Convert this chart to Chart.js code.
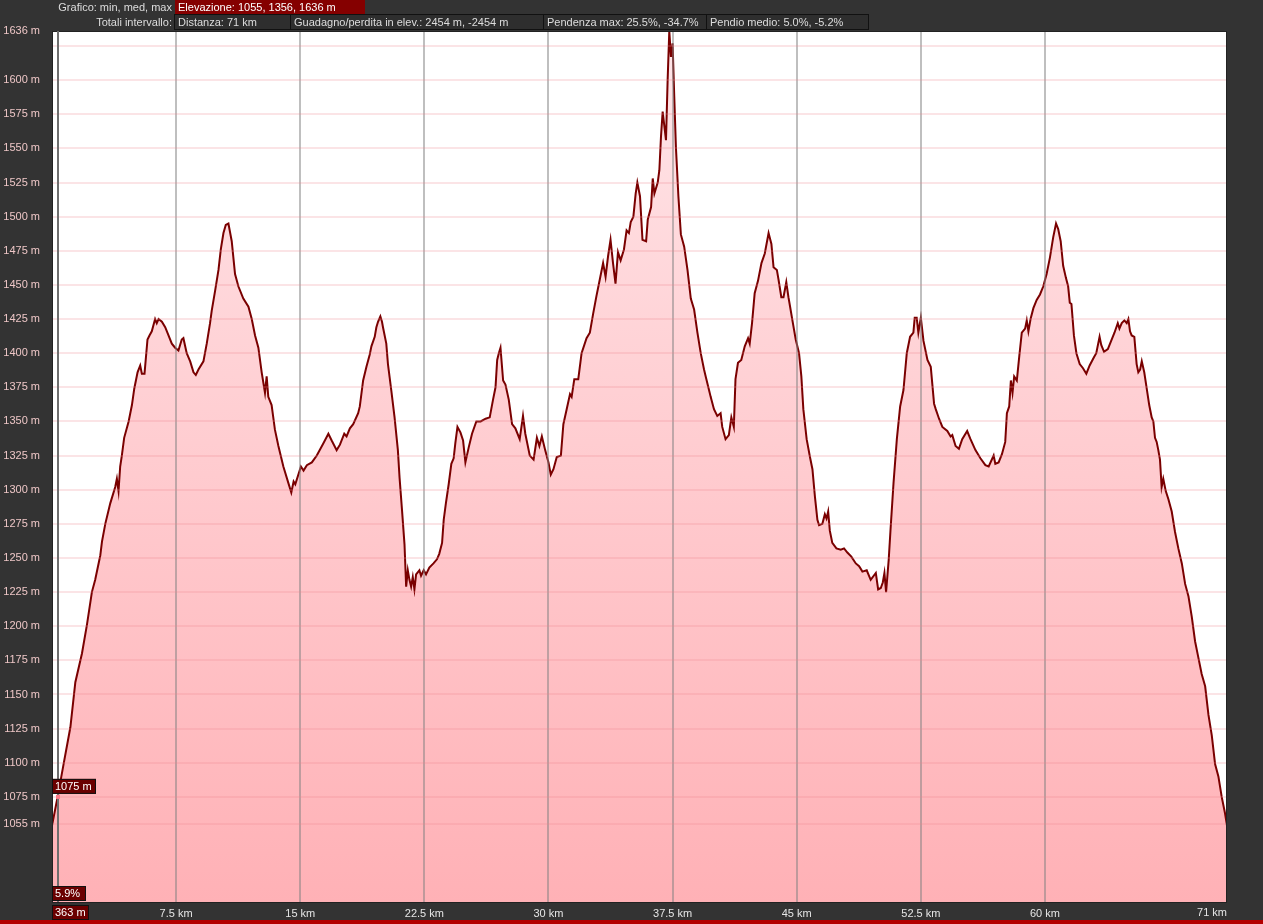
<!DOCTYPE html>
<html>
<head>
<meta charset="utf-8">
<script src="https://cdn.jsdelivr.net/npm/chart.js@4/dist/chart.umd.min.js"></script>
<style>
body{margin:0;background:#333;font-family:"Liberation Sans",Arial,sans-serif;font-size:11px;color:#ddd;overflow:hidden}
#wrap{position:relative;width:1263px;height:924px}
canvas{position:absolute;left:0;top:0}
.lab{position:absolute;left:0;width:172px;text-align:right;height:14px;line-height:14px;white-space:nowrap}
.box{position:absolute;height:14px;line-height:14px;padding-left:3px;box-sizing:border-box;white-space:nowrap}
.red{background:#850000;color:#fff;top:0}
.blk{background:#2e2e2e;border:1px solid #111;top:14px;height:16px;line-height:14px;color:#ddd}
#bar{position:absolute;left:0;top:920px;width:1263px;height:4px;background:#b40000}
</style>
</head>
<body>
<div id="wrap">
<canvas id="profilo" width="1263" height="924"></canvas>
<div class="lab" style="top:0">Grafico: min, med, max</div>
<div class="box red" style="left:175px;width:190px">Elevazione: 1055, 1356, 1636 m</div>
<div class="lab" style="top:15px">Totali intervallo:</div>
<div class="box blk" style="left:174px;width:117px">Distanza: 71 km</div>
<div class="box blk" style="left:290px;width:254px">Guadagno/perdita in elev.: 2454 m, -2454 m</div>
<div class="box blk" style="left:543px;width:164px">Pendenza max: 25.5%, -34.7%</div>
<div class="box blk" style="left:706px;width:163px">Pendio medio: 5.0%, -5.2%</div>
<div id="bar"></div>
</div>
<script>
// profilo altimetrico: distanza (km) e quota (m)
const distKm=[0,0.34,0.7,1.11,1.41,1.81,2.11,2.41,2.61,2.92,3.02,3.22,3.52,3.82,3.92,4.02,4.12,4.22,4.36,4.63,4.73,4.83,4.97,5.17,5.33,5.43,5.59,5.77,5.89,6.03,6.23,6.33,6.44,6.64,6.84,7.04,7.24,7.44,7.64,7.84,7.94,8.14,8.35,8.55,8.69,8.85,9.15,9.35,9.55,9.65,9.86,10.06,10.2,10.36,10.5,10.66,10.86,11.06,11.26,11.56,11.87,12.07,12.27,12.47,12.67,12.87,12.97,13.07,13.27,13.47,13.68,13.98,14.28,14.46,14.6,14.7,15.04,15.2,15.4,15.7,16,16.4,16.7,16.9,17.2,17.4,17.66,17.8,18,18.2,18.5,18.6,18.8,19,19.2,19.3,19.5,19.6,19.7,19.84,19.94,20,20.2,20.3,20.5,20.7,20.9,21,21.15,21.3,21.4,21.5,21.6,21.7,21.8,21.9,22,22.2,22.3,22.46,22.6,22.8,23.05,23.26,23.4,23.57,23.67,23.8,23.97,24.13,24.27,24.37,24.5,24.68,24.84,24.98,25.18,25.38,25.64,25.9,26.2,26.45,26.65,26.8,26.9,27,27.1,27.26,27.4,27.6,27.8,28,28.26,28.46,28.6,28.87,29.1,29.3,29.45,29.6,29.8,30,30.14,30.3,30.5,30.75,30.9,31.1,31.3,31.4,31.56,31.8,32,32.3,32.5,32.7,32.9,33.1,33.3,33.45,33.6,33.75,33.9,34.05,34.2,34.36,34.56,34.72,34.86,34.97,35.13,35.27,35.37,35.53,35.68,35.9,36,36.2,36.3,36.4,36.6,36.7,36.8,36.9,37.1,37.2,37.3,37.4,37.5,37.6,37.7,37.85,38,38.2,38.4,38.6,38.8,39,39.2,39.4,39.5,39.7,39.8,40,40.2,40.4,40.5,40.7,40.9,41.05,41.2,41.3,41.45,41.65,41.86,42.06,42.16,42.3,42.46,42.66,42.87,43.07,43.3,43.47,43.6,43.8,43.9,44.07,44.2,44.37,44.5,44.6,44.74,44.94,45.14,45.28,45.4,45.6,45.8,45.95,46.1,46.25,46.35,46.55,46.7,46.8,46.9,47,47.15,47.4,47.66,47.86,48.06,48.3,48.57,48.77,48.97,49.23,49.47,49.78,49.92,50.08,50.2,50.3,50.4,50.56,50.67,50.85,51.05,51.25,51.45,51.65,51.85,52.05,52.13,52.25,52.35,52.5,52.66,52.9,53.1,53.3,53.4,53.6,53.8,54.1,54.3,54.4,54.6,54.8,55,55.3,55.5,55.8,56.1,56.4,56.6,56.9,57,57.2,57.4,57.6,57.7,57.84,57.94,58.04,58.14,58.3,58.45,58.6,58.8,58.9,59,59.13,59.3,59.5,59.7,59.9,60.1,60.3,60.5,60.67,60.8,60.95,61.1,61.27,61.4,61.5,61.6,61.75,61.9,62.1,62.3,62.5,62.7,62.96,63.1,63.3,63.4,63.57,63.8,64,64.2,64.4,64.5,64.64,64.8,64.94,65.04,65.14,65.24,65.4,65.54,65.64,65.75,65.85,66,66.15,66.3,66.45,66.55,66.65,66.75,66.85,66.95,67.05,67.15,67.3,67.46,67.66,67.86,68.06,68.27,68.47,68.67,68.87,69.07,69.27,69.47,69.68,69.88,70.08,70.28,70.48,70.68,70.88,71];
const elevM=[1054,1075,1099,1126,1159,1180,1201,1225,1234,1252,1262,1275,1290,1302,1308,1299,1317,1325,1338,1350,1356,1362,1374,1386,1391,1385,1385,1410,1413,1416,1425,1422,1425,1423,1419,1413,1407,1404,1402,1410,1411,1400,1394,1386,1384,1388,1394,1407,1422,1431,1446,1461,1476,1488,1494,1495,1482,1458,1449,1440,1434,1425,1413,1404,1386,1371,1383,1368,1362,1344,1332,1317,1305,1298,1306,1304,1317,1314,1318,1320,1325,1334,1341,1336,1329,1333,1341,1339,1345,1348,1356,1361,1380,1390,1399,1405,1412,1419,1423,1427,1423,1419,1407,1392,1373,1353,1329,1309,1285,1260,1229,1241,1234,1229,1236,1227,1238,1241,1237,1241,1238,1243,1246,1249,1253,1261,1278,1290,1304,1319,1323,1334,1346,1342,1336,1320,1331,1341,1350,1350,1352,1353,1366,1375,1395,1400,1404,1380,1377,1366,1348,1345,1337,1354,1341,1325,1322,1338,1332,1339,1329,1320,1311,1315,1324,1325,1348,1359,1370,1368,1381,1381,1400,1411,1415,1429,1442,1454,1466,1456,1471,1483,1466,1451,1474,1468,1476,1490,1488,1496,1500,1517,1525,1515,1483,1482,1498,1507,1528,1517,1525,1534,1559,1577,1556,1600,1636,1617,1627,1588,1551,1515,1487,1478,1461,1440,1432,1415,1400,1388,1383,1373,1368,1359,1354,1356,1346,1337,1340,1353,1346,1381,1393,1395,1405,1411,1407,1422,1444,1453,1466,1473,1488,1480,1463,1461,1454,1441,1441,1452,1441,1434,1424,1410,1400,1383,1359,1337,1324,1315,1295,1278,1274,1275,1282,1279,1284,1270,1261,1257,1256,1257,1254,1251,1246,1244,1240,1241,1234,1239,1227,1228,1232,1239,1225,1249,1271,1305,1337,1361,1373,1400,1412,1415,1426,1426,1415,1426,1409,1395,1390,1363,1359,1352,1346,1343,1339,1340,1332,1330,1337,1343,1337,1329,1323,1318,1317,1325,1319,1320,1326,1335,1356,1361,1380,1371,1383,1380,1398,1415,1418,1424,1416,1425,1433,1439,1443,1449,1458,1470,1485,1495,1491,1482,1464,1455,1449,1437,1436,1413,1400,1392,1389,1385,1391,1397,1400,1412,1406,1401,1403,1409,1415,1422,1418,1422,1424,1422,1425,1416,1413,1412,1392,1386,1388,1394,1386,1374,1362,1353,1350,1338,1335,1329,1322,1302,1308,1299,1293,1284,1269,1257,1246,1231,1222,1207,1189,1177,1165,1156,1135,1120,1099,1090,1075,1063,1054];

const yTicks=[1055,1075,1100,1125,1150,1175,1200,1225,1250,1275,1300,1325,1350,1375,1400,1425,1450,1475,1500,1525,1550,1575,1600,1625,1636];
const xTicks=[7.5,15,22.5,30,37.5,45,52.5,60];
const xMax=71;

// cursore
const cursorKm=0.363;
const cursorElev=1075;
const cursorSlope="5.9%";

const FONT='"Liberation Sans", Arial, sans-serif';

const sfondo={
id:"sfondo",
beforeDraw(chart){
const {ctx,chartArea:a}=chart;
ctx.save();
ctx.fillStyle="#333";
ctx.fillRect(0,0,chart.width,chart.height);
ctx.fillStyle="#fff";
ctx.fillRect(a.left,a.top,a.right-a.left,a.bottom-a.top);
ctx.restore();
},
afterDraw(chart){
const {ctx,chartArea:a,scales}=chart;
ctx.save();
// bordo area
ctx.strokeStyle="#222";
ctx.lineWidth=1;
ctx.strokeRect(a.left+0.5,a.top+0.5,a.right-a.left-1,a.bottom-a.top);
// linea cursore
const cx=Math.round(scales.x.getPixelForValue(cursorKm));
const cy=scales.y.getPixelForValue(cursorElev);
ctx.strokeStyle="#6e6e6e";
ctx.lineWidth=2;
ctx.beginPath();
ctx.moveTo(cx,a.top);
ctx.lineTo(cx,a.bottom);
ctx.stroke();
ctx.fillStyle="#ff7a88";
ctx.fillRect(cx-2,cy-2,4,4);
ctx.font="11px "+FONT;
ctx.textBaseline="middle";
function etichetta(txt,x,y,w){
ctx.fillStyle="#6a0000";
ctx.fillRect(x,y,w,15);
ctx.strokeStyle="#111";
ctx.lineWidth=1;
ctx.strokeRect(x+0.5,y+0.5,w-1,14);
ctx.fillStyle="#fff";
ctx.textAlign="left";
ctx.fillText(txt,x+3,y+8);
}
etichetta(cursorElev+" m",a.left,cy-18,44);
etichetta(cursorSlope,a.left,a.bottom-16,34);
etichetta(Math.round(cursorKm*1000)+" m",a.left,a.bottom+3,37);
// ultima etichetta asse x
ctx.fillStyle="#e6e6e6";
ctx.textAlign="right";
ctx.fillText(xMax+" km",a.right,a.bottom+11);
ctx.restore();
}
};

new Chart(
document.getElementById("profilo"),
{
type:"line",
data:{
datasets:[
{
label:"Elevazione",
data:distKm.map((d,i)=>({x:d,y:elevM[i]})),
borderColor:"#7a0000",
borderWidth:2,
pointRadius:0,
tension:0,
fill:"start",
backgroundColor:(c)=>{
const a=c.chart.chartArea;
if(!a)return "#ffc8cc";
const g=c.chart.ctx.createLinearGradient(0,a.top,0,a.bottom);
g.addColorStop(0,"#ffe6e9");
g.addColorStop(1,"#ffb1b6");
return g;
}
}
]
},
options:{
responsive:false,
animation:false,
events:[],
layout:{padding:{top:31,right:36,bottom:4,left:0}},
plugins:{legend:{display:false},tooltip:{enabled:false}},
scales:{
x:{
type:"linear",
min:0,
max:xMax,
afterBuildTicks:(s)=>{s.ticks=xTicks.map(v=>({value:v}));},
afterFit:(s)=>{s.height=18;},
grid:{color:"rgba(128,128,128,0.5)",lineWidth:2,drawTicks:false,z:1},
border:{display:false},
ticks:{
padding:5,
color:"#e6e6e6",
font:{family:FONT,size:11},
maxRotation:0,
autoSkip:false,
callback:(v)=>v+" km"
}
},
y:{
min:998,
max:1636,
afterBuildTicks:(s)=>{s.ticks=yTicks.map(v=>({value:v}));},
afterFit:(s)=>{s.width=52;},
grid:{
color:(c)=>c.tick&&c.tick.value===1636?"rgba(0,0,0,0)":"rgba(235,130,140,0.22)",
lineWidth:2,
drawTicks:false,
z:1
},
border:{display:false},
ticks:{
padding:12,
color:"#edc6c6",
font:{family:FONT,size:11},
autoSkip:false,
callback:(v)=>v===1625?"":v+" m"
}
}
}
},
plugins:[sfondo]
}
);
</script>
</body>
</html>
